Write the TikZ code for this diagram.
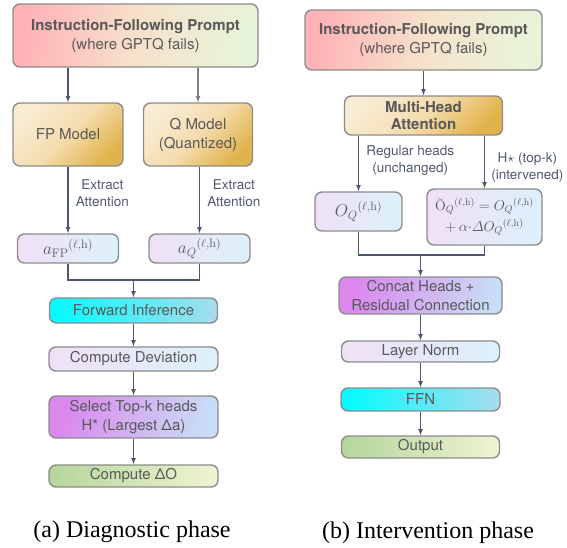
\documentclass[tikz,border=0pt]{standalone}
\usepackage{amsmath}
\usepackage{fontspec}
\newfontfamily\boxfont{TeX Gyre Heros}
\newfontfamily\capfont{Liberation Serif}
\usetikzlibrary{calc}

\definecolor{txtgray}{HTML}{595959}
\definecolor{edgegray}{HTML}{8C8C8C}
\definecolor{arrowslate}{HTML}{4B5671}
\definecolor{arrowlight}{HTML}{7E7E7E}
\definecolor{lblslate}{HTML}{4D5870}
\definecolor{pinkL}{HTML}{FFB3B7}
\definecolor{pinkM}{HTML}{F7E1CB}
\definecolor{pinkR}{HTML}{E8F4D9}
\definecolor{goldL}{HTML}{F9ECD4}
\definecolor{goldM}{HTML}{F4DDAE}
\definecolor{goldR}{HTML}{E1B34C}
\definecolor{lavL}{HTML}{F0E0F6}
\definecolor{lavR}{HTML}{DCF1FB}
\definecolor{cyanL}{HTML}{00FBFF}
\definecolor{cyanR}{HTML}{A9DCEC}
\definecolor{purpL}{HTML}{DB87EE}
\definecolor{purpR}{HTML}{C9DBF6}
\definecolor{greenL}{HTML}{B5D59C}
\definecolor{greenR}{HTML}{EFF4D2}

\begin{document}
\begin{tikzpicture}[x = 1pt, y = -1pt,
  box/.style = {draw = edgegray, line width = 1.4pt, rounded corners = 7pt,
    align = center, text = txtgray, inner sep = 0pt,
    font = \boxfont\fontsize{15}{19}\selectfont},
  pinkbox/.style = {box, left color = pinkL, right color = pinkR,
    middle color = pinkM, shading angle = 80},
  goldbox/.style = {box, left color = goldL, right color = goldR,
    middle color = goldM, shading angle = 45},
  lavbox/.style = {box, left color = lavL, right color = lavR},
  cyanbox/.style = {box, left color = cyanL, right color = cyanR},
  purpbox/.style = {box, left color = purpL, right color = purpR, shading angle = 70},
  greenbox/.style = {box, left color = greenL, right color = greenR},
  mathfont/.style = {font = \fontsize{17.5}{20}\selectfont},
  link/.style = {draw = arrowslate, line width = 1.1pt},
  arr/.style = {link, -latex},
  lbl/.style = {align = center, text = lblslate,
    font = \boxfont\fontsize{13.5}{16.5}\selectfont},
  caption/.style = {font = \capfont\fontsize{24}{26}\selectfont}]

  \useasboundingbox (0, 0) rectangle (567, 547);

  \node[pinkbox, minimum width = 245pt, minimum height = 63pt] (promptA) at (135.5, 35.5)
    {\textbf{Instruction-Following Prompt}\\(where GPTQ fails)};
  \node[goldbox, minimum width = 110pt, minimum height = 63pt] (fp) at (68, 134.5) {FP Model};
  \node[goldbox, minimum width = 109pt, minimum height = 63pt] (q) at (198, 134.5)
    {Q Model\\(Quantized)};
  \node[lavbox, mathfont, minimum width = 101pt, minimum height = 29pt] (afp) at (68, 248.5)
    {$a_{\mathrm{FP}}{}^{(\ell,\mathrm{h})}$};
  \node[lavbox, mathfont, minimum width = 101pt, minimum height = 29pt] (aq) at (199.5, 248.5)
    {$a_{Q}{}^{(\ell,\mathrm{h})}$};

  \node[cyanbox, minimum width = 168pt, minimum height = 25pt] (fwd) at (133.5, 310.5)
    {Forward Inference};
  \node[lavbox, minimum width = 169pt, minimum height = 24pt] (dev) at (133.5, 359)
    {Compute Deviation};
  \node[purpbox, minimum width = 169pt, minimum height = 42pt] (topk) at (133.5, 417)
    {Select Top-k heads\\H* (Largest Δa)};
  \node[greenbox, minimum width = 169pt, minimum height = 22pt] (dO) at (133.5, 476)
    {Compute ΔO};

  \draw[arr] (promptA.south -| fp.north) -- (fp.north);
  \draw[arr, draw = arrowlight] (promptA.south -| q.north) -- (q.north);
  \draw[arr] (fp.south) -- (fp.south |- afp.north)
    node[lbl, pos = .4, right = 4pt] {Extract\\Attention};
  \draw[arr] (aq.north |- q.south) -- (aq.north)
    node[lbl, pos = .4, right = 4pt] {Extract\\Attention};

  \coordinate (joinA) at (133.5, 280);
  \draw[link] (afp.south) |- (joinA) -| (aq.south);
  \draw[arr] (joinA) -- (fwd.north);
  \foreach \a/\b in {fwd/dev, dev/topk, topk/dO}{
    \draw[arr] (\a) -- (\b);
  }

  \node[caption] (capA) at (132, 532) {(a) Diagnostic phase};

  \node[pinkbox, minimum width = 237pt, minimum height = 60pt] (promptB) at (423.5, 40)
    {\textbf{Instruction-Following Prompt}\\(where GPTQ fails)};
  \node[goldbox, minimum width = 158pt, minimum height = 39pt,
    font = \boxfont\bfseries\fontsize{15}{17}\selectfont] (mha) at (423.5, 115.5)
    {Multi-Head\\Attention};
  \node[lavbox, mathfont, minimum width = 87pt, minimum height = 39pt] (oq) at (358.5, 211.5)
    {$O_{Q}{}^{(\ell,\mathrm{h})}$};
  \node[lavbox, minimum width = 115pt, minimum height = 56pt,
    font = \fontsize{14}{21}\selectfont] (otil) at (484.5, 217)
    {$\text{Õ}_{Q}{}^{(\ell,\mathrm{h})} = O_{Q}{}^{(\ell,\mathrm{h})}$\\
     $+\,\alpha{\cdot}\varDelta O_{Q}{}^{(\ell,\mathrm{h})}$};

  \node[purpbox, minimum width = 163pt, minimum height = 37pt] (concat) at (420.5, 295.5)
    {Concat Heads +\\Residual Connection};
  \node[lavbox, minimum width = 158pt, minimum height = 21pt] (ln) at (420.5, 351.5)
    {Layer Norm};
  \node[cyanbox, minimum width = 159pt, minimum height = 23pt] (ffn) at (420.5, 399.5) {FFN};
  \node[greenbox, minimum width = 158pt, minimum height = 22pt] (out) at (420.5, 447) {Output};

  \draw[arr] (promptB) -- (mha);
  \draw[arr] (mha.south -| oq.north) -- (oq.north)
    node[lbl, pos = .45, right = 4pt] {Regular heads\\(unchanged)};
  \draw[arr] (mha.south -| otil.north) -- (otil.north)
    node[lbl, pos = .6, right = 3pt] {H$\star$ (top-k)\\(intervened)};

  \coordinate (joinB) at (420.5, 255);
  \draw[link] (oq.south) |- (joinB) -| (otil.south);
  \draw[arr] (joinB) -- (concat.north);
  \foreach \a/\b in {concat/ln, ln/ffn, ffn/out}{
    \draw[arr] (\a) -- (\b);
  }

  \node[caption] (capB) at (428, 533) {(b) Intervention phase};
\end{tikzpicture}
\end{document}
